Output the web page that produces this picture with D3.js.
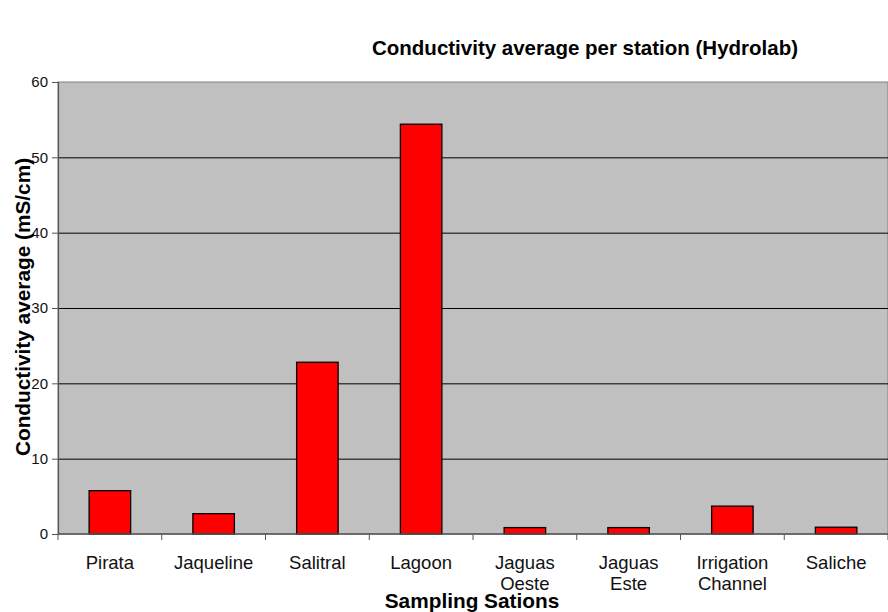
<!DOCTYPE html>
<html>
<head>
<meta charset="utf-8">
<script src="https://cdn.jsdelivr.net/npm/d3@7"></script>
<style>
  html, body { margin: 0; padding: 0; background: #fff; }
  svg { display: block; font-family: Arial, "Liberation Sans", sans-serif; }
</style>
</head>
<body>
<svg id="chart" width="888" height="612"></svg>
<script>
// Stations (label lines) and their average conductivity in mS/cm
const stations = ["Pirata", "Jaqueline", "Salitral", "Lagoon", "Jaguas Oeste", "Jaguas Este", "Irrigation Channel", "Saliche"];
const stationLines = [["Pirata"], ["Jaqueline"], ["Salitral"], ["Lagoon"], ["Jaguas", "Oeste"], ["Jaguas", "Este"], ["Irrigation", "Channel"], ["Saliche"]];
const conductivity = [5.75, 2.7, 22.8, 54.4, 0.85, 0.85, 3.7, 0.9];
const yTicks = [0, 10, 20, 30, 40, 50, 60];

const svg = d3.select("#chart");
const margin = { left: 58, top: 82, right: 0, bottom: 78 };
const W = 888, H = 612;
const plotW = W - margin.left - margin.right;
const plotH = H - margin.top - margin.bottom;

const x = d3.scaleBand().domain(stations).range([margin.left, margin.left + plotW])
  .paddingInner(0.6).paddingOuter(0.3);
const band = d3.scaleBand().domain(stations).range([margin.left, margin.left + plotW]);
const y = d3.scaleLinear().domain([0, 60]).range([margin.top + plotH, margin.top]);

// plot background
svg.append("rect")
  .attr("x", margin.left).attr("y", y(60))
  .attr("width", plotW).attr("height", y(0) - y(60))
  .attr("fill", "#c0c0c0")
  .attr("stroke", "#808080").attr("stroke-width", 1);

// horizontal gridlines
svg.append("g").selectAll("line")
  .data(yTicks.filter(t => t > 0 && t < 60))
  .join("line")
  .attr("x1", margin.left).attr("x2", margin.left + plotW)
  .attr("y1", d => y(d) + 0.5).attr("y2", d => y(d) + 0.5)
  .attr("stroke", "#000").attr("stroke-width", 1);

// bars
svg.append("g").selectAll("rect")
  .data(stations)
  .join("rect")
  .attr("x", d => x(d))
  .attr("y", (d, i) => y(conductivity[i]))
  .attr("width", x.bandwidth())
  .attr("height", (d, i) => y(0) - y(conductivity[i]))
  .attr("fill", "#ff0000")
  .attr("stroke", "#000").attr("stroke-width", 1.3);

// y axis
const yAxis = d3.axisLeft(y).tickValues(yTicks).tickSize(6).tickPadding(4);
const gy = svg.append("g").attr("transform", `translate(${margin.left},0)`).call(yAxis);
gy.select(".domain").attr("stroke", "#555").attr("stroke-width", 1.2);
gy.selectAll(".tick line").attr("stroke", "#555");
gy.selectAll("text").attr("font-size", 15).attr("fill", "#111")
  .attr("font-family", "Arial, 'Liberation Sans', sans-serif");

// x axis with ticks at band boundaries
const gx = svg.append("g");
gx.append("line")
  .attr("x1", margin.left).attr("x2", margin.left + plotW)
  .attr("y1", y(0)).attr("y2", y(0))
  .attr("stroke", "#555").attr("stroke-width", 1.5);
const boundaries = stations.map(s => band(s)).concat([margin.left + plotW]);
gx.selectAll("line.tk")
  .data(boundaries)
  .join("line").attr("class", "tk")
  .attr("x1", d => d).attr("x2", d => d)
  .attr("y1", y(0)).attr("y2", y(0) + 6)
  .attr("stroke", "#555").attr("stroke-width", 1);

// category labels
const lab = svg.append("g").attr("font-size", 18.5).attr("fill", "#111").attr("text-anchor", "middle");
stationLines.forEach((lines, i) => {
  const cx = band(stations[i]) + band.bandwidth() / 2;
  const t = lab.append("text").attr("x", cx).attr("y", 569);
  lines.forEach((ln, j) => {
    t.append("tspan").attr("x", cx).attr("dy", j === 0 ? 0 : 21).text(ln);
  });
});

// title
svg.append("text")
  .attr("x", 585).attr("y", 55)
  .attr("text-anchor", "middle")
  .attr("font-size", 20.5).attr("font-weight", "bold")
  .text("Conductivity average per station (Hydrolab)");

// axis titles
svg.append("text")
  .attr("x", 472).attr("y", 608)
  .attr("text-anchor", "middle")
  .attr("font-size", 20.8).attr("font-weight", "bold")
  .text("Sampling Sations");

svg.append("text")
  .attr("transform", "translate(30,307) rotate(-90)")
  .attr("text-anchor", "middle")
  .attr("font-size", 20.8).attr("font-weight", "bold")
  .text("Conductivity average (mS/cm)");
</script>
</body>
</html>
